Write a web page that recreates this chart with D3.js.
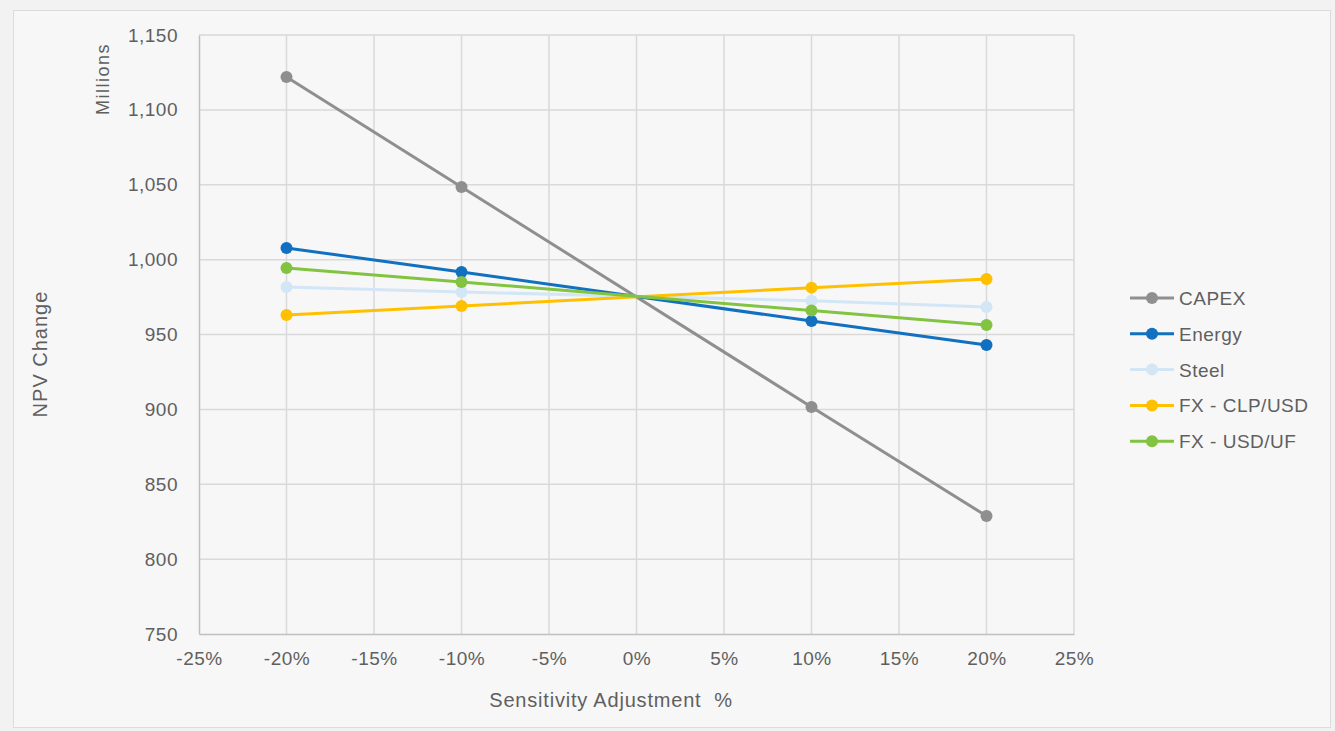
<!DOCTYPE html>
<html><head><meta charset="utf-8">
<script src="https://cdn.jsdelivr.net/npm/d3@7"></script>
<style>
html,body{margin:0;padding:0;background:#f2f2f2;}
svg{display:block;font-family:"Liberation Sans",Arial,sans-serif;}
text{white-space:pre;}
</style></head>
<body><svg id="c" width="1335" height="731"></svg>
<script>
const xValues = [-0.20, -0.10, 0.10, 0.20];
const seriesNames = ["CAPEX", "Energy", "Steel", "FX - CLP/USD", "FX - USD/UF"];
const capex = [1122, 1048.5, 901.6, 828.8];
const energy = [1007.8, 991.7, 959, 943];
const steel = [981.7, 978.4, 972.6, 968.4];
const fxClpUsd = [963, 969, 981.3, 987];
const fxUsdUf = [994.4, 985, 966, 956.4];
const seriesColors = ["#8f8f8f", "#1170c0", "#d3e6f6", "#ffc000", "#82c341"];
const xTicks = [-0.25,-0.20,-0.15,-0.10,-0.05,0,0.05,0.10,0.15,0.20,0.25];
const yTicks = [750,800,850,900,950,1000,1050,1100,1150];

const allSeries = [capex, energy, steel, fxClpUsd, fxUsdUf];
const svg = d3.select("#c");
svg.append("rect").attr("x",13.5).attr("y",10.5).attr("width",1317).attr("height",717)
  .attr("fill","#f7f7f7").attr("stroke","#dcdcdc");

const L=199, R=1074, T=35, B=634;
const x = d3.scaleLinear().domain([-0.25,0.25]).range([L,R]);
const y = d3.scaleLinear().domain([750,1150]).range([B,T]);
const txt = "#5f5f5f";

const g = svg.append("g");
g.selectAll(".gx").data(xTicks.slice(1)).join("line")
  .attr("x1",d=>x(d)).attr("x2",d=>x(d)).attr("y1",T).attr("y2",B)
  .attr("stroke","#d9d9d9").attr("stroke-width",1.5);
g.selectAll(".gy").data(yTicks.slice(1)).join("line")
  .attr("x1",L).attr("x2",R).attr("y1",d=>y(d)).attr("y2",d=>y(d))
  .attr("stroke","#d9d9d9").attr("stroke-width",1.5);

const xAxis = d3.axisBottom(x).tickValues(xTicks).tickSize(0).tickPadding(18).tickFormat(d3.format(".0%"));
const yAxis = d3.axisLeft(y).tickValues(yTicks).tickSize(0).tickPadding(21).tickFormat(d3.format(","));
const gx = svg.append("g").attr("transform",`translate(0,${B})`).call(xAxis);
const gy = svg.append("g").attr("transform",`translate(${L},0)`).call(yAxis);
[gx,gy].forEach(a=>{
  a.select(".domain").attr("stroke","#bfbfbf").attr("stroke-width",1.5);
  a.selectAll("text").attr("fill",txt).attr("font-size","19px").attr("letter-spacing","0.5px")
    .attr("font-family","Liberation Sans, Arial, sans-serif");
});
gx.selectAll("text").text(d=>d3.format(".0%")(d).replace("−","-"));

const line = d3.line().x((d,i)=>x(xValues[i])).y(d=>y(d));
allSeries.forEach((s,k)=>{
  svg.append("path").datum(s).attr("d",line).attr("fill","none")
    .attr("stroke",seriesColors[k]).attr("stroke-width",3);
});
allSeries.forEach((s,k)=>{
  svg.append("g").selectAll("circle").data(s).join("circle")
    .attr("cx",(d,i)=>x(xValues[i])).attr("cy",d=>y(d)).attr("r",6)
    .attr("fill",seriesColors[k]);
});

svg.append("text").attr("transform","translate(109,79) rotate(-90)").attr("text-anchor","middle")
  .attr("fill",txt).attr("font-size","18px").attr("letter-spacing","1.5px").text("Millions");
svg.append("text").attr("transform","translate(47,354) rotate(-90)").attr("text-anchor","middle")
  .attr("fill",txt).attr("font-size","20px").attr("letter-spacing","1px").text("NPV Change");
svg.append("text").attr("x",611).attr("y",707).attr("text-anchor","middle")
  .attr("fill",txt).attr("font-size","20px").attr("letter-spacing","0.8px").text("Sensitivity Adjustment  %");

const leg = svg.append("g").selectAll("g").data(seriesNames).join("g")
  .attr("transform",(d,i)=>`translate(1130,${298+i*35.8})`);
leg.append("line").attr("x1",0).attr("x2",44).attr("y1",0).attr("y2",0)
  .attr("stroke",(d,i)=>seriesColors[i]).attr("stroke-width",3);
leg.append("circle").attr("cx",22).attr("cy",0).attr("r",6).attr("fill",(d,i)=>seriesColors[i]);
leg.append("text").attr("x",49).attr("y",7).attr("fill",txt).attr("font-size","19px")
  .attr("letter-spacing","0.5px").text(d=>d);
</script></body></html>
